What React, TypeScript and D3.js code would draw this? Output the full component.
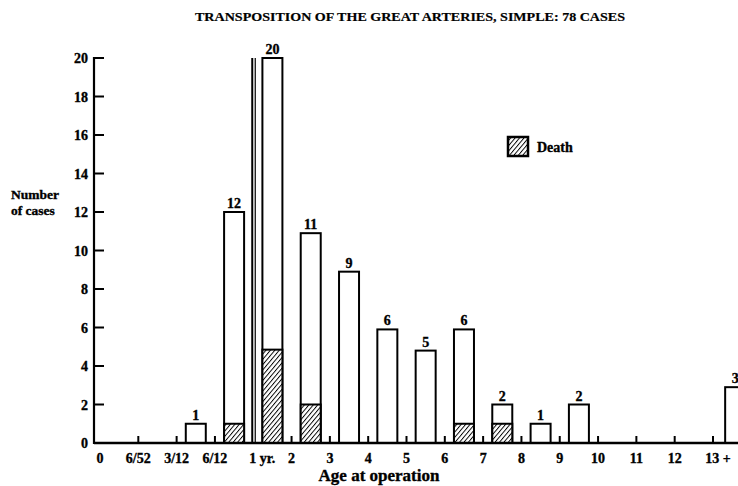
import React from "react";
import * as d3 from "d3";

const tickLabels = ["0", "6/52", "3/12", "6/12", "1 yr.", "2", "3", "4", "5", "6", "7", "8", "9", "10", "11", "12", "13 +"];
const binNames = ["0-6/52", "6/52-3/12", "3/12-6/12", "6/12-1", "1-2", "2-3", "3-4", "4-5", "5-6", "6-7", "7-8", "8-9", "9-10", "10-11", "11-12", "12-13", "13+"];
const caseHeights = [0, 0, 1, 12, 20, 10.9, 8.9, 5.9, 4.8, 5.9, 2, 1, 2, 0, 0, 0, 2.9];
const caseLabels = ["", "", "1", "12", "20", "11", "9", "6", "5", "6", "2", "1", "2", "", "", "", "3"];
const deaths = [0, 0, 0, 1, 4.85, 2, 0, 0, 0, 1, 1, 0, 0, 0, 0, 0, 0];
const yTicks = [0, 2, 4, 6, 8, 10, 12, 14, 16, 18, 20];

const W = 738;
const H = 486;
const FONT = "'Liberation Serif', 'Times New Roman', serif";
const heavy = { stroke: "#000", strokeWidth: 0.35 };

export default function App() {
  const x = d3.scaleLinear().domain([0, 16]).range([100, 713]);
  const y = d3.scaleLinear().domain([0, 20]).range([443, 58]);
  const barW = 20;
  const axisX = 94;
  const baseY = y(0);

  return (
    <svg width={W} height={H} style={{ position: "absolute", left: 0, top: 0, background: "#fff" }}>
      <defs>
        <pattern id="hatch" patternUnits="userSpaceOnUse" width={3.4} height={3.4} patternTransform="rotate(40)">
          <rect width={3.4} height={3.4} fill="#fff" />
          <line x1={0} y1={0} x2={0} y2={3.4} stroke="#000" strokeWidth={1.9} />
        </pattern>
      </defs>
      <rect width={W} height={H} fill="#fff" />

      {/* title */}
      <text x={410} y={21} fontFamily={FONT} fontWeight="bold" fontSize={13} textAnchor="middle" textLength={430} lengthAdjust="spacingAndGlyphs" {...heavy} strokeWidth={0.2}>
        TRANSPOSITION OF THE GREAT ARTERIES, SIMPLE: 78 CASES
      </text>

      {/* y axis */}
      <line x1={axisX} x2={axisX} y1={y(20) - 1} y2={baseY + 1} stroke="#000" strokeWidth={2.2} />
      {yTicks.map((t) => (
        <g key={t}>
          <line x1={axisX} x2={axisX + 10} y1={y(t)} y2={y(t)} stroke="#000" strokeWidth={2} />
          <text x={88} y={y(t) + 5} fontFamily={FONT} fontWeight="bold" fontSize={14} textAnchor="end" {...heavy}>
            {t}
          </text>
        </g>
      ))}
      <text x={11} y={199} fontFamily={FONT} fontWeight="bold" fontSize={13.5} {...heavy}>Number</text>
      <text x={11} y={215} fontFamily={FONT} fontWeight="bold" fontSize={13.5} {...heavy}>of cases</text>

      {/* bars */}
      {binNames.map((b, i) => {
        const h = caseHeights[i];
        if (!h) return null;
        const cx = x(i + 0.5) + (i === 16 ? 3 : 0);
        const d = deaths[i];
        return (
          <g key={b}>
            <rect x={cx - barW / 2} y={y(h)} width={barW} height={baseY - y(h)} fill="#fff" stroke="#000" strokeWidth={2} />
            {d > 0 && (
              <rect x={cx - barW / 2} y={y(d)} width={barW} height={baseY - y(d)} fill="url(#hatch)" stroke="#000" strokeWidth={2} />
            )}
            <text x={cx} y={y(h) - 4} fontFamily={FONT} fontWeight="bold" fontSize={14} textAnchor="middle" {...heavy}>
              {caseLabels[i]}
            </text>
          </g>
        );
      })}

      {/* double line at 1 yr */}
      <line x1={x(4) - 1} x2={x(4) - 1} y1={y(20)} y2={baseY} stroke="#000" strokeWidth={2} />
      <line x1={x(4) + 2} x2={x(4) + 2} y1={y(20)} y2={baseY} stroke="#000" strokeWidth={1.2} />

      {/* x axis */}
      <line x1={axisX} x2={W} y1={baseY} y2={baseY} stroke="#000" strokeWidth={2.4} />
      {tickLabels.map((t, i) =>
        i === 0 || i === 4 ? null : (
          <line key={"t" + i} x1={x(i)} x2={x(i)} y1={baseY} y2={baseY - 7} stroke="#000" strokeWidth={2} />
        )
      )}
      {tickLabels.map((t, i) => (
        <text
          key={"l" + i}
          x={i === 4 ? x(i) - 4 : i === 16 ? x(i) + 5 : x(i)}
          y={463}
          fontFamily={FONT}
          fontWeight="bold"
          fontSize={14}
          textAnchor={i === 4 ? "start" : "middle"}
          {...heavy}
        >
          {t}
        </text>
      ))}
      <text x={379} y={481} fontFamily={FONT} fontWeight="bold" fontSize={17} textAnchor="middle" {...heavy}>
        Age at operation
      </text>

      {/* legend */}
      <rect x={508} y={137} width={20} height={19} fill="url(#hatch)" stroke="#000" strokeWidth={2.5} />
      <text x={537} y={152} fontFamily={FONT} fontWeight="bold" fontSize={14} {...heavy}>Death</text>
    </svg>
  );
}
